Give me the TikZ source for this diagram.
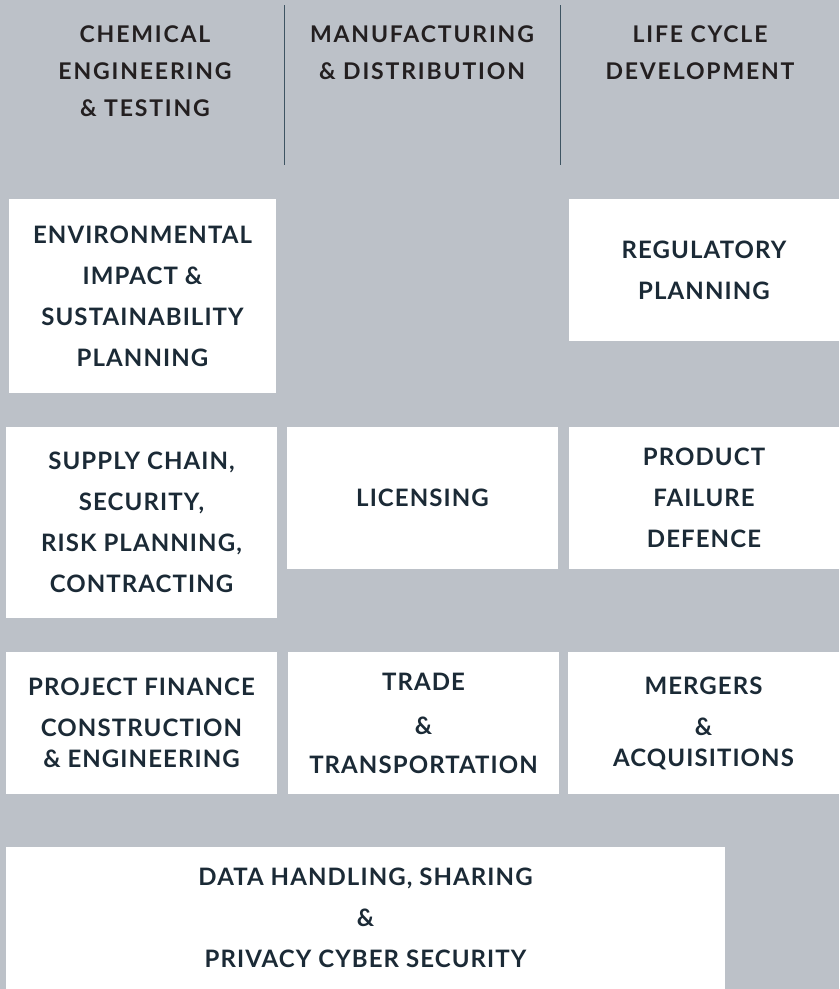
\documentclass[tikz,border=0pt]{standalone}
\usepackage{fontspec}
\setmainfont{Lato}
\newfontfamily\headfont{Lato}[LetterSpace=8]
\newfontfamily\areafont{Lato}[LetterSpace=4.5]
\definecolor{panelgray}{HTML}{BCC1C8}
\definecolor{inkblue}{HTML}{1B2A36}
\definecolor{headink}{HTML}{231F20}
\definecolor{rulecol}{HTML}{3E5462}

\begin{document}
\begin{tikzpicture}[x=1pt,y=-1pt,inner sep=0pt,outer sep=0pt]
  \tikzstyle{head} = [anchor=north, align=center, text=headink,
    font=\headfont\fontsize{23}{37}\selectfont\bfseries]
  \tikzstyle{area} = [rectangle, fill=white, align=center, text=inkblue,
    font=\areafont\fontsize{24}{41}\selectfont\bfseries]
  \tikzstyle{divider} = [draw=rulecol, line width=0.9pt]

  % background and frame
  \fill[panelgray] (0,0) rectangle (839,989);
  \useasboundingbox (0,0) rectangle (839,989);

  % column headings
  \node[head] (chem) at (145,26)  {CHEMICAL\\ENGINEERING\\\& TESTING};
  \node[head] (manu) at (422,26)  {MANUFACTURING\\\& DISTRIBUTION};
  \node[head] (life) at (700,26)  {LIFE CYCLE\\DEVELOPMENT};
  \coordinate (d1top) at (284,5);
  \coordinate (d1bot) at (284,165);
  \coordinate (d2top) at (560,5);
  \coordinate (d2bot) at (560,165);
  \draw[divider] (d1top) -- (d1bot);
  \draw[divider] (d2top) -- (d2bot);

  % first row
  \node[area, minimum width=267pt, minimum height=194pt] (env) at (142.5,296)
    {ENVIRONMENTAL\\IMPACT \&\\SUSTAINABILITY\\PLANNING};
  \node[area, minimum width=270pt, minimum height=142pt] (reg) at (704,270)
    {REGULATORY\\PLANNING};

  % second row
  \node[area, minimum width=271pt, minimum height=191pt] (supply) at (141.5,522.5)
    {SUPPLY CHAIN,\\SECURITY,\\RISK PLANNING,\\CONTRACTING};
  \node[area, minimum width=271pt, minimum height=142pt] (lic) at (422.5,498)
    {LICENSING};
  \node[area, minimum width=270pt, minimum height=142pt] (prod) at (704,498)
    {PRODUCT\\FAILURE\\DEFENCE};

  % third row
  \node[area, minimum width=271pt, minimum height=142pt] (proj) at (141.5,723)
    {PROJECT FINANCE\\CONSTRUCTION\\[-10pt]\& ENGINEERING};
  \node[area, minimum width=271pt, minimum height=142pt] (trade) at (423.5,723)
    {TRADE\\[3pt]\&\\[-2pt]TRANSPORTATION};
  \node[area, minimum width=271pt, minimum height=142pt] (merg) at (703.5,723)
    {MERGERS\\\&\\[-10pt]ACQUISITIONS};

  % bottom
  \node[area, minimum width=719pt, minimum height=142pt] (data) at (365.5,918)
    {DATA HANDLING, SHARING\\\&\\PRIVACY CYBER SECURITY};
\end{tikzpicture}
\end{document}
